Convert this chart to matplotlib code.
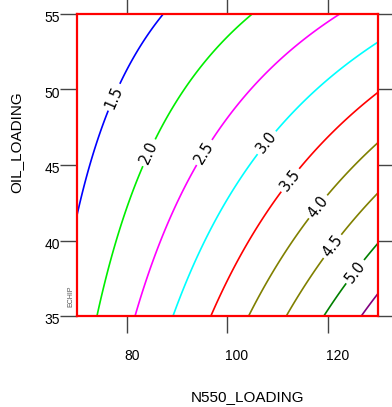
import numpy as np
import matplotlib
matplotlib.use("Agg")
import matplotlib.pyplot as plt
from matplotlib.transforms import ScaledTranslation

# Contour levels and colours
levels = [1.5, 2.0, 2.5, 3.0, 3.5, 4.0, 4.5, 5.0, 5.5]
level_colors = ['#0000ff', '#00ee00', '#ff00ff', '#00ffff', '#ff0000',
                '#808000', '#808000', '#008000', '#800080']

# Points (N550_LOADING, OIL_LOADING)
c15_x = [87.2, 82.0, 76.7, 72.7, 70.7, 70.1]
c15_y = [55.0, 52.4, 48.9, 45.3, 43.1, 41.0]
c20_x = [104.9, 98.6, 94.6, 92.6, 89.3, 84.6, 82.0, 80.6, 77.3, 74.2]
c20_y = [55.0, 53.06, 51.5, 50.6, 49.1, 46.2, 43.6, 42.7, 39.4, 35.1]
c25_x = [122.1, 111.8, 105.9, 99.2, 92.6, 89.9, 86.6, 84.0, 81.7]
c25_y = [55.0, 52.4, 50.2, 47.1, 44.0, 42.7, 40.0, 37.2, 35.1]
c30_x = [129.7, 122.4, 117.1, 111.8, 105.9, 99.9, 94.6, 91.25, 89.3]
c30_y = [53.06, 51.3, 49.85, 47.98, 45.8, 42.7, 39.4, 36.9, 35.07]
c35_x = [129.7, 123.1, 119.1, 115.1, 110.2, 104.5, 100.5, 97.0]
c35_y = [49.7, 48.0, 46.4, 45.1, 42.9, 40.25, 37.8, 35.07]
c40_x = [129.7, 121.8, 109.8, 105.9, 104.4]
c40_y = [46.4, 43.8, 38.5, 36.3, 35.07]
c45_x = [129.7, 123.8, 117.1, 112.0]
c45_y = [43.1, 40.7, 37.8, 35.07]
c50_x = [129.7, 125.8, 123.4, 119.3]
c50_y = [39.8, 38.05, 36.94, 35.07]
c55_x = [129.7, 127.0]
c55_y = [36.4, 35.07]

contour_x = [c15_x, c20_x, c25_x, c30_x, c35_x, c40_x, c45_x, c50_x, c55_x]
contour_y = [c15_y, c20_y, c25_y, c30_y, c35_y, c40_y, c45_y, c50_y, c55_y]

# Label positions
label_levels = [1.5, 2.0, 2.5, 3.0, 3.5, 4.0, 4.5, 5.0]
label_x = [76.7, 83.2, 94.6, 107.0, 112.5, 116.3, 119.8, 124.4]
label_y = [49.6, 46.0, 46.0, 46.7, 44.0, 42.7, 39.9, 38.2]

x_ticks = [80, 100, 120]
y_ticks = [35, 40, 45, 50, 55]
x_range = (70, 130)
y_range = (35, 55)

# Fit a smooth response surface through the read contour points
px, py, pz = [], [], []
for lev, xs, ys in zip(levels, contour_x, contour_y):
    px += xs; py += ys; pz += [lev] * len(xs)
px = (np.array(px) - 100) / 30.0
py = (np.array(py) - 45) / 10.0
pz = np.array(pz)
def design(u, v):
    return np.stack([np.ones_like(u), u, v, u * u, u * v, v * v], axis=-1)
coef, *_ = np.linalg.lstsq(design(px, py), pz, rcond=None)

gx = np.linspace(*x_range, 301)
gy = np.linspace(*y_range, 201)
GX, GY = np.meshgrid(gx, gy)
GZ = design((GX - 100) / 30.0, (GY - 45) / 10.0) @ coef

fig = plt.figure(figsize=(3.92, 4.07), dpi=100)
ax = fig.add_axes([76.5 / 392, (407 - 316) / 407, 301.5 / 392, 302 / 407])

cs = ax.contour(GX, GY, GZ, levels=levels, colors=level_colors, linewidths=1.2)
manual = [(lx, ly) for lx, ly in zip(label_x, label_y)]
ax.clabel(cs, levels=label_levels, manual=manual, inline=True, fmt='%.1f',
          fontsize=10.5, colors='black', inline_spacing=3)

ax.set_xlim(*x_range)
ax.set_ylim(*y_range)
for s in ax.spines.values():
    s.set_color('#ff0000')
    s.set_linewidth(1.6)
    s.set_zorder(5)

ax.set_xticks(x_ticks)
ax.set_yticks(y_ticks)
ax.set_xticklabels([str(t) for t in x_ticks], ha='left',
                   fontfamily='Liberation Sans', fontsize=10)
ax.set_yticklabels([str(t) for t in y_ticks],
                   fontfamily='Liberation Sans', fontsize=10)
ax.tick_params(axis='both', direction='out', length=12, width=1.0,
               color='#444444', top=True, right=True)
ax.tick_params(axis='x', pad=12)
ax.tick_params(axis='y', pad=0)
for lbl in ax.get_xticklabels():
    lbl.set_transform(lbl.get_transform() + ScaledTranslation(-2 / 100, 0, fig.dpi_scale_trans))
for lbl in ax.get_yticklabels():
    lbl.set_transform(lbl.get_transform() + ScaledTranslation(0, -3 / 100, fig.dpi_scale_trans))

ax.set_xlabel('N550_LOADING', fontfamily='Liberation Sans', fontsize=11, va='center')
ax.xaxis.set_label_coords(0.567, -0.267)
ax.set_ylabel('OIL_LOADING', fontfamily='Liberation Sans', fontsize=11, va='center')
ax.yaxis.set_label_coords(-0.2007, 0.577)

ax.text(-0.02, 0.065, 'ECHIP', transform=ax.transAxes, rotation=90,
        fontsize=5, color='#555555', ha='center', va='center',
        fontfamily='Liberation Sans')

fig.savefig('out.png', dpi=100)
